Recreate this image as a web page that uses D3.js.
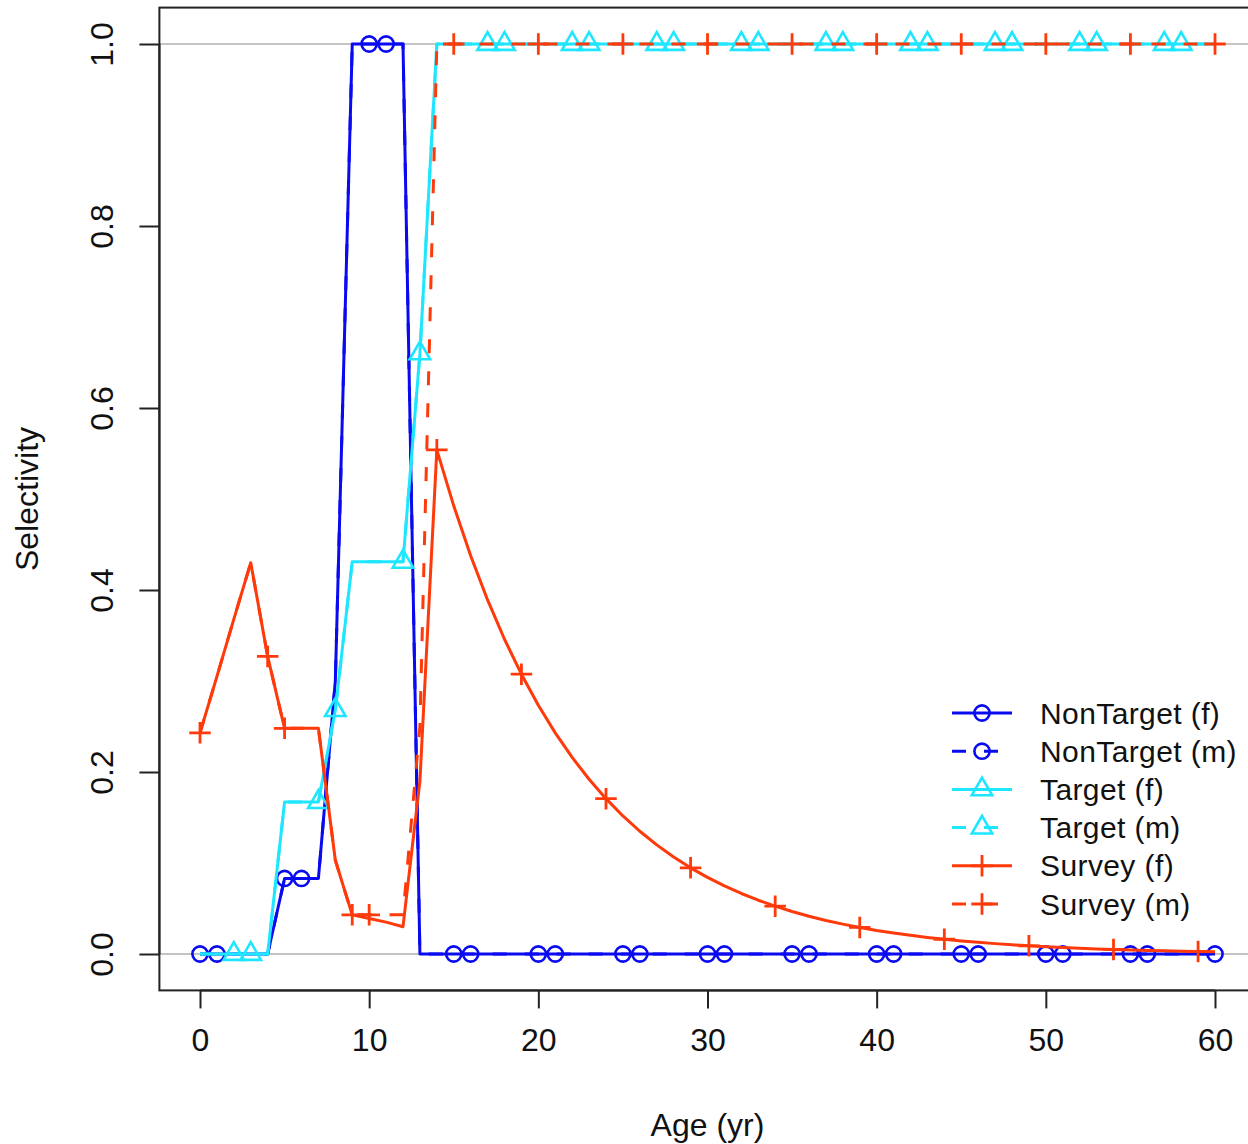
<!DOCTYPE html>
<html><head><meta charset="utf-8">
<script src="https://cdn.jsdelivr.net/npm/d3@7"></script>
<style>
body{margin:0;background:#fff}
svg{display:block}
text{font-family:"Liberation Sans",Arial,Helvetica,sans-serif;fill:#111}
</style>
</head><body>
<svg id="chart" width="1248" height="1144"></svg>
<script>
// ---- data ----
const ages = [0,1,2,3,4,5,6,7,8,9,10,11,12,13,14,15,16,17,18,19,20,21,22,23,24,25,26,27,28,29,30,
  31,32,33,34,35,36,37,38,39,40,41,42,43,44,45,46,47,48,49,50,51,52,53,54,55,56,57,58,59,60];

const nonTargetF = [0,0,0,0,0,0.083,0.083,0.083,0.30,1,1,1,1,0,
  0,0,0,0,0,0,0,0,0,0,0,0,0,0,0,0,0,0,0,0,0,0,0,0,0,0,0,0,0,0,0,0,0,0,0,0,0,0,0,0,0,0,0,0,0,0,0];
const nonTargetM = [0,0,0,0,0,0.083,0.083,0.083,0.30,1,1,1,1,0,
  0,0,0,0,0,0,0,0,0,0,0,0,0,0,0,0,0,0,0,0,0,0,0,0,0,0,0,0,0,0,0,0,0,0,0,0,0,0,0,0,0,0,0,0,0,0,0];

const targetF = [0,0,0,0,0,0.167,0.167,0.167,0.268,0.431,0.431,0.431,0.431,0.66,
  1,1,1,1,1,1,1,1,1,1,1,1,1,1,1,1,1,1,1,1,1,1,1,1,1,1,1,1,1,1,1,1,1,1,1,1,1,1,1,1,1,1,1,1,1,1,1];
const targetM = [0,0,0,0,0,0.167,0.167,0.167,0.268,0.431,0.431,0.431,0.431,0.66,
  1,1,1,1,1,1,1,1,1,1,1,1,1,1,1,1,1,1,1,1,1,1,1,1,1,1,1,1,1,1,1,1,1,1,1,1,1,1,1,1,1,1,1,1,1,1,1];

const surveyF = [0.243,0.305,0.368,0.43,0.327,0.248,0.248,0.248,0.103,0.043,0.039,0.035,0.03,0.19,
  0.554,0.4925,0.4377,0.3891,0.3459,0.3075,0.2733,0.2430,0.2160,0.1920,0.1707,0.1517,0.1349,0.1199,
  0.1066,0.0947,0.0842,0.0748,0.0665,0.0591,0.0526,0.0467,0.0415,0.0369,0.0328,0.0292,0.0259,0.0231,
  0.0205,0.0182,0.0162,0.0144,0.0128,0.0114,0.0101,0.0090,0.0080,0.0071,0.0063,0.0056,0.0050,0.0044,
  0.0039,0.0035,0.0031,0.0028,0.0025];
const surveyM = [0.243,0.305,0.368,0.43,0.327,0.248,0.248,0.248,0.103,0.043,0.043,0.043,0.043,0.25,
  1,1,1,1,1,1,1,1,1,1,1,1,1,1,1,1,1,1,1,1,1,1,1,1,1,1,1,1,1,1,1,1,1,1,1,1,1,1,1,1,1,1,1,1,1,1,1];

const seriesNames = ["NonTarget (f)","NonTarget (m)","Target (f)","Target (m)","Survey (f)","Survey (m)"];
const markerStart = [0,1,2,3,4,0];   // first age carrying a marker (every 5th age after)
const xTicks = [0,10,20,30,40,50,60];
const yTicks = [0,0.2,0.4,0.6,0.8,1.0];
const yTickLabels = ["0.0","0.2","0.4","0.6","0.8","1.0"];
const refLines = [0,1];
const xTitle = "Age (yr)";
const yTitle = "Selectivity";

// ---- styles ----
const BLUE = "#0a0af0", CYAN = "#1fe6ff", RED = "#ff3a0a";
const styles = [
  {color:BLUE, dash:null, shape:"circle"},
  {color:BLUE, dash:"14,18", shape:"circle"},
  {color:CYAN, dash:null, shape:"triangle"},
  {color:CYAN, dash:"14,18", shape:"triangle"},
  {color:RED,  dash:null, shape:"plus"},
  {color:RED,  dash:"14,18", shape:"plus"}
];
const allValues = [nonTargetF, nonTargetM, targetF, targetM, surveyF, surveyM];

const svg = d3.select("#chart");
const x = d3.scaleLinear().domain([0,60]).range([200,1215]);
const y = d3.scaleLinear().domain([0,1]).range([954,44]);
const bx0 = x(-2.4), bx1 = x(62.4), by0 = y(1.04), by1 = y(-0.04);

// reference lines
svg.selectAll("line.ref").data(refLines).join("line")
  .attr("x1",bx0).attr("x2",1248).attr("y1",d=>y(d)).attr("y2",d=>y(d))
  .attr("stroke","#c4c4c4").attr("stroke-width",2);

// marker drawing
const R = 7.6;
function drawMarker(g, shape, cx, cy, color){
  if(shape==="circle"){
    g.append("circle").attr("cx",cx).attr("cy",cy).attr("r",R)
      .attr("fill","none").attr("stroke",color).attr("stroke-width",2.6);
  } else if(shape==="triangle"){
    const r = 1.555*R, yc = 0.7775*R, xc = 1.347*R;
    g.append("path").attr("d",`M${cx},${cy-r}L${cx+xc},${cy+yc}L${cx-xc},${cy+yc}Z`)
      .attr("fill","none").attr("stroke",color).attr("stroke-width",2.6).attr("stroke-linejoin","miter");
  } else {
    const h = Math.SQRT2*R;
    g.append("path").attr("d",`M${cx-h},${cy}H${cx+h}M${cx},${cy-h}V${cy+h}`)
      .attr("fill","none").attr("stroke",color).attr("stroke-width",2.8);
  }
}

const line = d3.line().x((d,i)=>x(ages[i])).y(d=>y(d));

allValues.forEach((vals,si)=>{
  const st = styles[si];
  const g = svg.append("g");
  g.append("path").datum(vals).attr("d",line)
    .attr("fill","none").attr("stroke",st.color).attr("stroke-width",3)
    .attr("stroke-dasharray",st.dash).attr("stroke-linejoin","round");
  ages.forEach((a,i)=>{
    if(a>=markerStart[si] && (a-markerStart[si])%5===0) drawMarker(g, st.shape, x(a), y(vals[i]), st.color);
  });
});

// box
svg.append("rect").attr("x",bx0).attr("y",by0).attr("width",bx1-bx0).attr("height",by1-by0)
  .attr("fill","none").attr("stroke","#222").attr("stroke-width",2);

// axes
const xAxis = d3.axisBottom(x).tickValues(xTicks).tickSize(18).tickPadding(20).tickFormat(d3.format("d"));
const gx = svg.append("g").attr("transform",`translate(0,${by1})`).call(xAxis);
gx.select(".domain").attr("d",`M${x(0)},0H${x(60)}`).attr("stroke","#222").attr("stroke-width",2);
gx.selectAll(".tick line").attr("stroke","#222").attr("stroke-width",2);
gx.selectAll(".tick text").attr("font-size",32).attr("fill","#111").attr("dy","0.71em")
  .attr("font-family","'Liberation Sans',Arial,sans-serif");

const yAxis = d3.axisLeft(y).tickValues(yTicks).tickSize(20).tickFormat((d,i)=>yTickLabels[i]);
const gy = svg.append("g").attr("transform",`translate(${bx0},0)`).call(yAxis);
gy.select(".domain").attr("d",`M0,${y(0)}V${y(1)}`).attr("stroke","#222").attr("stroke-width",2);
gy.selectAll(".tick line").attr("stroke","#222").attr("stroke-width",2);
gy.selectAll(".tick text")
  .attr("x",null).attr("dy",null)
  .attr("transform","translate(-57,0) rotate(-90)")
  .attr("text-anchor","middle").attr("dominant-baseline","central")
  .attr("font-size",32).attr("fill","#111")
  .attr("font-family","'Liberation Sans',Arial,sans-serif");

// titles
svg.append("text").attr("x",(bx0+bx1)/2).attr("y",1125).attr("text-anchor","middle")
  .attr("dominant-baseline","central").attr("font-size",32).text(xTitle);
svg.append("text").attr("transform",`translate(27,${(by0+by1)/2}) rotate(-90)`)
  .attr("text-anchor","middle").attr("dominant-baseline","central").attr("font-size",32).text(yTitle);

// legend
const lg = svg.append("g");
seriesNames.forEach((name,i)=>{
  const st = styles[i];
  const cy = 713 + i*38.2;
  lg.append("line").attr("x1",952).attr("x2",1012).attr("y1",cy).attr("y2",cy)
    .attr("stroke",st.color).attr("stroke-width",3).attr("stroke-dasharray",st.dash);
  drawMarker(lg, st.shape, 982, cy, st.color);
  lg.append("text").attr("x",1040).attr("y",cy).attr("dominant-baseline","central")
    .attr("font-size",30).attr("letter-spacing","0.4px").text(name);
});
</script>
</body></html>
